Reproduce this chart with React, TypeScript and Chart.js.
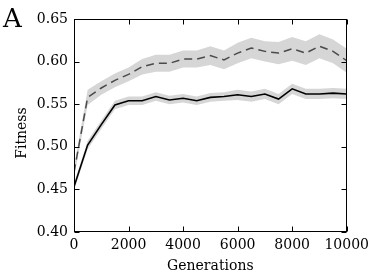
import React, { useEffect, useRef } from "react";
import { Chart, registerables } from "chart.js";

Chart.register(...registerables);

const generations = [0, 500, 1000, 1500, 2000, 2500, 3000, 3500, 4000, 4500, 5000, 5500, 6000, 6500, 7000, 7500, 8000, 8500, 9000, 9500, 10000];
const solidMean = [0.453, 0.502, 0.526, 0.549, 0.554, 0.554, 0.559, 0.555, 0.557, 0.554, 0.558, 0.559, 0.561, 0.559, 0.562, 0.556, 0.568, 0.562, 0.562, 0.563, 0.562];
const solidErr = [0.004, 0.005, 0.005, 0.005, 0.005, 0.005, 0.005, 0.005, 0.005, 0.005, 0.005, 0.005, 0.006, 0.006, 0.006, 0.006, 0.006, 0.006, 0.006, 0.006, 0.006];
const dashedMean = [0.470, 0.558, 0.569, 0.578, 0.585, 0.594, 0.598, 0.598, 0.603, 0.603, 0.607, 0.602, 0.610, 0.616, 0.612, 0.610, 0.615, 0.610, 0.618, 0.612, 0.601];
const dashedErr = [0.006, 0.009, 0.008, 0.008, 0.008, 0.009, 0.010, 0.010, 0.010, 0.010, 0.011, 0.011, 0.012, 0.012, 0.012, 0.013, 0.014, 0.014, 0.014, 0.014, 0.014];
const xTicks = [0, 2000, 4000, 6000, 8000, 10000];
const yTicks = [0.40, 0.45, 0.50, 0.55, 0.60, 0.65];
const panelLabel = "A";
const xTitle = "Generations";
const yTitle = "Fitness";

const FONT = "'DejaVu Serif', serif";
const FS = 14;
const BAND = "rgb(214,214,214)";

const pts = (ys: number[]) => generations.map((g, i) => ({ x: g, y: ys[i] }));

const framePlugin = {
  id: "frame",
  afterDraw(chart: any) {
    const { ctx, chartArea: a, scales } = chart;
    ctx.save();
    ctx.strokeStyle = "#000";
    ctx.lineWidth = 1;
    const L = Math.round(a.left) + 0.5;
    const R = Math.round(a.right) - 0.5;
    const T = Math.round(a.top) + 0.5;
    const B = Math.round(a.bottom) - 0.5;
    ctx.strokeRect(L, T, R - L, B - T);
    const tl = 5;
    ctx.beginPath();
    for (const v of xTicks) {
      const px = Math.round(scales.x.getPixelForValue(v)) + 0.5;
      ctx.moveTo(px, B); ctx.lineTo(px, B - tl);
      ctx.moveTo(px, T); ctx.lineTo(px, T + tl);
    }
    for (const v of yTicks) {
      const py = Math.round(scales.y.getPixelForValue(v)) + 0.5;
      ctx.moveTo(L, py); ctx.lineTo(L + tl, py);
      ctx.moveTo(R, py); ctx.lineTo(R - tl, py);
    }
    ctx.stroke();
    ctx.fillStyle = "#000";
    ctx.font = `26px ${FONT}`;
    ctx.textAlign = "left";
    ctx.textBaseline = "alphabetic";
    ctx.fillText(panelLabel, 3, 27);
    ctx.font = `${FS}px ${FONT}`;
    ctx.translate(22, 133);
    ctx.rotate(-Math.PI / 2);
    ctx.textAlign = "center";
    ctx.textBaseline = "middle";
    ctx.fillText(yTitle, 0, 0);
    ctx.restore();
  },
};

export default function App() {
  const ref = useRef<HTMLCanvasElement | null>(null);
  useEffect(() => {
    if (!ref.current) return;
    const solidUp = solidMean.map((m, i) => m + solidErr[i]);
    const solidLo = solidMean.map((m, i) => m - solidErr[i]);
    const dashUp = dashedMean.map((m, i) => m + dashedErr[i]);
    const dashLo = dashedMean.map((m, i) => m - dashedErr[i]);
    const bandBase = { borderWidth: 0, borderColor: "transparent", pointRadius: 0, order: 2, tension: 0 };
    const chart = new Chart(ref.current, {
      type: "line",
      data: {
        datasets: [
          { data: pts(solidMean), borderColor: "#000", borderWidth: 1.6, pointRadius: 0, fill: false, order: 0 },
          { data: pts(dashedMean), borderColor: "#4a4a4a", borderWidth: 1.5, borderDash: [8, 5], pointRadius: 0, fill: false, order: 0 },
          { ...bandBase, data: pts(dashUp), fill: false },
          { ...bandBase, data: pts(dashLo), fill: "-1", backgroundColor: BAND },
          { ...bandBase, data: pts(solidUp), fill: false },
          { ...bandBase, data: pts(solidLo), fill: "-1", backgroundColor: BAND },
        ] as any,
      },
      options: {
        animation: false,
        responsive: true,
        maintainAspectRatio: false,
        layout: { padding: { top: 19, right: 26, left: 0, bottom: 0 } },
        plugins: { legend: { display: false }, tooltip: { enabled: false } },
        scales: {
          x: {
            type: "linear",
            min: 0,
            max: 10000,
            afterBuildTicks: (s: any) => { s.ticks = xTicks.map((v) => ({ value: v })); },
            ticks: { font: { family: FONT, size: FS }, color: "#000", padding: 5, maxRotation: 0, callback: (v: any) => String(v) },
            grid: { display: false, drawTicks: false },
            border: { display: false },
            title: { display: true, text: xTitle, font: { family: FONT, size: FS }, color: "#000", padding: { top: 0, bottom: 2 } },
            afterFit: (s: any) => { s.height = 45; },
          },
          y: {
            type: "linear",
            min: 0.4,
            max: 0.65,
            afterBuildTicks: (s: any) => { s.ticks = yTicks.map((v) => ({ value: v })); },
            ticks: { font: { family: FONT, size: FS }, color: "#000", padding: 6, callback: (v: any) => Number(v).toFixed(2) },
            grid: { display: false, drawTicks: false },
            border: { display: false },
            title: { display: false },
            afterFit: (s: any) => { s.width = 74; },
          },
        },
      } as any,
      plugins: [framePlugin],
    });
    return () => chart.destroy();
  }, []);
  return (
    <div style={{ position: "fixed", left: 0, top: 0, width: 374, height: 277, background: "#fff" }}>
      <canvas ref={ref} />
    </div>
  );
}
